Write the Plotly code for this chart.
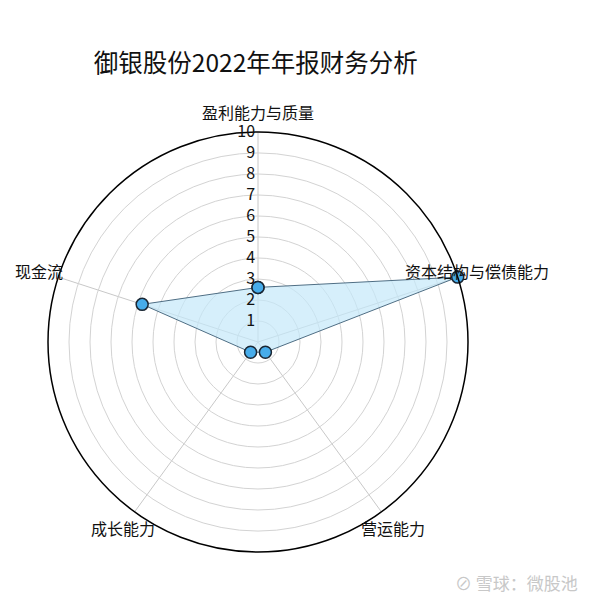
import math
import plotly.graph_objects as go

categories = ["盈利能力与质量", "资本结构与偿债能力", "营运能力", "成长能力", "现金流"]
values = [2.6, 10.0, 0.6, 0.6, 5.8]
radial_ticks = [1, 2, 3, 4, 5, 6, 7, 8, 9, 10]
title_text = "御银股份2022年年报财务分析"
watermark = "雪球：微股池"

FONT = "Noto Sans CJK SC"
W = H = 600
# polar geometry (figure pixels)
CX, CY, R = 250, 334, 210
R_MAX = 10
LABEL_R = 10.95

dom_x = [(CX - R) / W, (CX + R) / W]
dom_y = [1 - (CY + R) / H, 1 - (CY - R) / H]

fig = go.Figure()
fig.add_trace(go.Scatterpolar(
    r=values + [values[0]],
    theta=categories + [categories[0]],
    mode="lines+markers",
    fill="toself",
    fillcolor="rgba(196,232,250,0.7)",
    line=dict(color="#4f6e84", width=1),
    marker=dict(size=12, color="#47acea", line=dict(color="#1a2633", width=1.5)),
    showlegend=False,
    hoverinfo="skip",
))

# category labels, placed along each angular axis direction just outside the frame
annotations = []
n = len(categories)
for i, cat in enumerate(categories):
    ang = math.radians(90 - 360 * i / n)
    px = CX + R * LABEL_R / R_MAX * math.cos(ang)
    py = CY - R * LABEL_R / R_MAX * math.sin(ang)
    annotations.append(dict(
        text=cat, x=px / W, y=1 - py / H, xref="paper", yref="paper",
        xanchor="center", yanchor="middle", showarrow=False,
        font=dict(family=FONT, size=16, color="#111"),
    ))
annotations.append(dict(
    text="⊘ " + watermark, x=0.953, y=0.043, xref="paper", yref="paper",
    xanchor="right", yanchor="middle", showarrow=False,
    font=dict(family=FONT, size=17, color="#c8c8c8"),
))

fig.update_layout(
    width=W, height=H,
    margin=dict(l=0, r=0, t=0, b=0),
    paper_bgcolor="white",
    plot_bgcolor="white",
    font=dict(family=FONT, color="#111"),
    title=dict(text=title_text, x=0.413, xanchor="center", y=0.908, yanchor="middle",
               font=dict(family=FONT, size=24.5, color="#111")),
    polar=dict(
        domain=dict(x=dom_x, y=dom_y),
        bgcolor="white",
        radialaxis=dict(
            range=[0, R_MAX], tickvals=radial_ticks, angle=90, tickangle=90,
            showline=False, ticks="", gridcolor="#d3d3d3", gridwidth=1,
            tickfont=dict(family=FONT, size=16, color="#111"),
            side="counterclockwise",
        ),
        angularaxis=dict(
            categoryarray=categories, type="category",
            rotation=90, direction="clockwise",
            showticklabels=False, ticks="",
            gridcolor="#c8c8c8", gridwidth=1,
            showline=True, linecolor="#000", linewidth=1.5,
        ),
    ),
    annotations=annotations,
)

fig.write_html("out.html")
